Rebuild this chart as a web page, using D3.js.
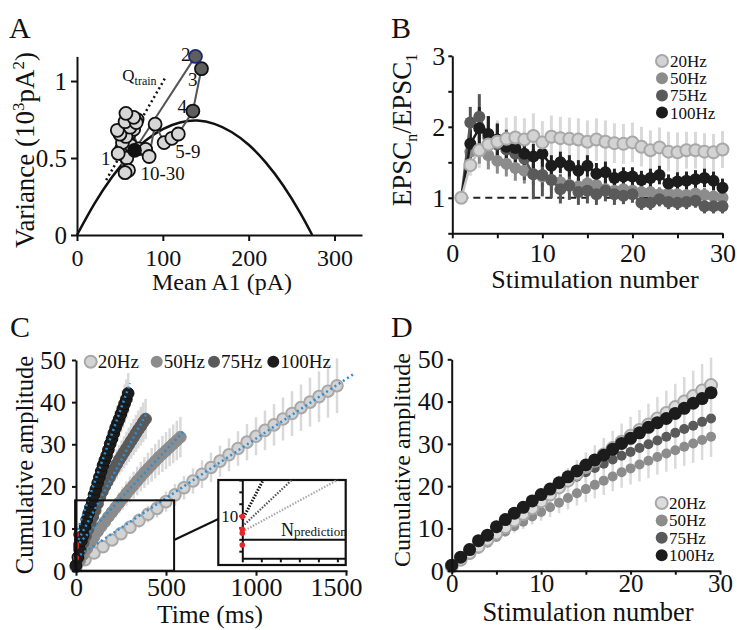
<!DOCTYPE html>
<html>
<head>
<meta charset="utf-8">
<title>Quantal analysis of train responses</title>
<script src="https://d3js.org/d3.v7.min.js"></script>
<style>
  body { margin: 0; background: #fff; }
  svg text { font-family: "Liberation Serif", "Times New Roman", serif; fill: #111; }
</style>
</head>
<body>
<div id="fig"></div>
<script>
// ---------- data ----------
var freqLabels = ["20Hz", "50Hz", "75Hz", "100Hz"];
var intervalsMs = [50, 20, 13.33, 10];

// A: mean-variance of A1 over the train (stimulus 1..30)
var meanA1 = [67, 138, 145, 135, 118, 110.5, 101.5, 91, 84, 80,
              72, 57, 66, 69, 56, 62, 47, 50, 57, 66,
              48, 56, 60, 70, 53, 63, 58, 52, 61, 55];
var varA1 = [0.55, 1.16, 1.08, 0.805, 0.656, 0.628, 0.60, 0.72, 0.51, 0.556,
             0.56, 0.79, 0.764, 0.73, 0.736, 0.70, 0.68, 0.655, 0.64, 0.686,
             0.53, 0.405, 0.42, 0.75, 0.60, 0.58, 0.50, 0.56, 0.66, 0.52];
var parabolaMean = [0, 20, 40, 60, 80, 100, 120, 140, 160, 180, 200, 220, 240, 260, 274];
var parabolaVar = [0, 0.20, 0.37, 0.508, 0.614, 0.688, 0.731, 0.743, 0.722, 0.669, 0.586, 0.47, 0.323, 0.144, 0];
var qTrainMean = [34, 104];
var qTrainVar = [0.357, 1.032];

// B: EPSCn/EPSC1, stimulation 1..30
var ppr20 = [1, 1.46, 1.67, 1.75, 1.79, 1.83, 1.85, 1.82, 1.87, 1.78, 1.86, 1.84, 1.83, 1.82, 1.79,
             1.82, 1.79, 1.77, 1.76, 1.78, 1.72, 1.67, 1.71, 1.65, 1.64, 1.67, 1.67, 1.65, 1.64, 1.68];
var ppr50 = [1, 1.65, 1.68, 1.60, 1.52, 1.48, 1.42, 1.38, 1.33, 1.30, 1.25, 1.22, 1.18, 1.16, 1.20,
             1.18, 1.12, 1.10, 1.12, 1.10, 1.08, 1.08, 1.05, 1.06, 1.05, 1.04, 1.06, 1.04, 1.02, 1.00];
var ppr75 = [1, 2.06, 2.14, 1.85, 1.75, 1.68, 1.62, 1.55, 1.33, 1.32, 1.25, 1.12, 1.17, 1.08, 1.10,
             1.05, 1.10, 1.05, 1.03, 1.05, 0.93, 0.93, 0.98, 0.94, 0.93, 0.94, 0.96, 0.88, 0.88, 0.88];
var ppr100 = [1, 1.76, 1.98, 1.90, 1.82, 1.72, 1.70, 1.62, 1.58, 1.62, 1.45, 1.50, 1.45, 1.38, 1.45,
              1.34, 1.36, 1.28, 1.30, 1.30, 1.25, 1.28, 1.32, 1.20, 1.23, 1.24, 1.26, 1.28, 1.24, 1.14];
var pprErr20 = [0, 0.15, 0.25, 0.3, 0.3, 0.3, 0.3, 0.3, 0.32, 0.3, 0.3, 0.3, 0.3, 0.3, 0.3,
                0.3, 0.3, 0.28, 0.28, 0.28, 0.28, 0.28, 0.28, 0.28, 0.28, 0.26, 0.26, 0.26, 0.26, 0.26];
var pprErr50 = [0, 0.15, 0.2, 0.2, 0.18, 0.18, 0.18, 0.18, 0.15, 0.15, 0.15, 0.12, 0.12, 0.12, 0.12,
                0.1, 0.1, 0.1, 0.1, 0.1, 0.1, 0.1, 0.1, 0.1, 0.1, 0.1, 0.1, 0.1, 0.1, 0.1];
var pprErr75 = [0, 0.22, 0.32, 0.3, 0.3, 0.28, 0.28, 0.3, 0.35, 0.3, 0.25, 0.2, 0.2, 0.18, 0.18,
                0.15, 0.15, 0.15, 0.12, 0.12, 0.1, 0.1, 0.1, 0.1, 0.1, 0.1, 0.1, 0.1, 0.1, 0.1];
var pprErr100 = [0, 0.2, 0.3, 0.25, 0.22, 0.2, 0.2, 0.18, 0.18, 0.18, 0.15, 0.15, 0.15, 0.15, 0.15,
                 0.15, 0.15, 0.13, 0.13, 0.13, 0.13, 0.13, 0.13, 0.13, 0.13, 0.13, 0.13, 0.13, 0.13, 0.13];

// C & D: cumulative amplitude, stimulation 0..29
var cum20 = [1.0, 2.6, 4.2, 5.7, 7.3, 8.8, 10.3, 11.9, 13.4, 14.8, 16.4, 18.0, 19.7, 21.3, 22.9,
             24.5, 26.0, 27.5, 29.0, 30.5, 31.9, 33.3, 34.6, 36.0, 37.3, 38.7, 40.0, 41.3, 42.6, 43.9];
var cum50 = [1.0, 2.3, 3.8, 5.2, 6.6, 8.0, 9.3, 10.5, 11.6, 12.8, 13.9, 15.0, 16.1, 17.2, 18.3,
             19.3, 20.3, 21.3, 22.3, 23.3, 24.2, 25.1, 26.0, 26.9, 27.7, 28.5, 29.3, 30.1, 30.9, 31.7];
var cum75 = [1.0, 3.0, 4.9, 6.6, 8.2, 9.8, 11.3, 12.8, 14.3, 15.9, 17.5, 18.8, 20.0, 21.1, 22.2,
             23.3, 24.3, 25.3, 26.3, 27.2, 28.1, 29.0, 29.9, 30.8, 31.7, 32.6, 33.5, 34.3, 35.2, 36.0];
var cum100 = [1.3, 3.2, 5.0, 7.1, 8.4, 10.4, 12.1, 13.6, 15.0, 16.5, 18.0, 19.3, 20.8, 22.2, 23.6,
              25.0, 26.2, 27.3, 28.7, 30.1, 31.3, 32.6, 33.9, 35.0, 36.0, 37.2, 38.4, 39.6, 40.7, 42.1];
var cumErr20 = [0.2, 0.4, 0.7, 0.9, 1.1, 1.3, 1.6, 1.8, 2.0, 2.2, 2.4, 2.6, 2.8, 3.0, 3.3,
                3.5, 3.7, 3.9, 4.1, 4.3, 4.5, 4.7, 4.9, 5.1, 5.3, 5.5, 5.8, 6.0, 6.3, 6.5];
var cumErr50 = [0.1, 0.3, 0.5, 0.7, 0.9, 1.1, 1.3, 1.5, 1.7, 1.9, 2.1, 2.3, 2.5, 2.7, 2.9,
                3.1, 3.2, 3.4, 3.5, 3.7, 3.8, 4.0, 4.1, 4.2, 4.3, 4.4, 4.5, 4.6, 4.7, 4.8];

// C: linear fits of the late phase (start at t=0, end point)
var fitIntercepts = [3.1, 5.7, 6.3, 8.6];
var fitEndT = [1540, 600, 395, 300];
var fitEndY = [46.6, 33.2, 37.6, 44.5];
var zoomBoxT = [-5, 545];
var zoomBoxY = [0, 16.7];

// C inset (magnified schematic)
var insetTicksX = [0, 10, 20, 30, 40, 50];
var insetTicksY = [2.5, 5, 7.5, 10, 12.5, 15, 17.5];
var insetRed = [9.8, 7.1, 6.3, 3.8];
var insetFitStart = [9.1, 7.7, 6.6];
var insetFitEndT = [11, 26, 50];
var insetNpred = 4.9;

// ---------- styles ----------
var fills = ["#d3d3d3", "#8c8c8c", "#5a5a5a", "#1c1c1c"];
var strokes = ["#a8a8a8", "#8c8c8c", "#5a5a5a", "#111111"];
var errCols = ["#d9d9d9", "#8c8c8c", "#555555", "#222222"];

var svg = d3.select("#fig").append("svg")
  .attr("width", 737).attr("height", 630)
  .style("background", "#fff");

function styleAxis(g, fs) {
  g.attr("font-family", null);
  g.selectAll("path, line").attr("stroke", "#111").attr("stroke-width", 2);
  g.selectAll("text").attr("font-size", fs).attr("fill", "#111");
}

function yTitle(x, y, fs) {
  return svg.append("text")
    .attr("transform", "translate(" + x + "," + y + ") rotate(-90)")
    .attr("text-anchor", "middle").attr("font-size", fs);
}

function panelLetter(txt, x, y) {
  svg.append("text").attr("x", x).attr("y", y).attr("font-size", 30).text(txt);
}

// ================= Panel A =================
var xA = d3.scaleLinear().domain([0, 332]).range([77, 362]);
var yA = d3.scaleLinear().domain([0, 1.16]).range([235, 56.4]);
var gA = svg.append("g");

gA.append("path")
  .datum(d3.range(parabolaMean.length))
  .attr("fill", "none").attr("stroke", "#111").attr("stroke-width", 2.5)
  .attr("d", d3.line().curve(d3.curveNatural)
    .x(function(i){ return xA(parabolaMean[i]); })
    .y(function(i){ return yA(parabolaVar[i]); }));

gA.append("line")
  .attr("x1", xA(qTrainMean[0])).attr("y1", yA(qTrainVar[0]))
  .attr("x2", xA(qTrainMean[1])).attr("y2", yA(qTrainVar[1]))
  .attr("stroke", "#111").attr("stroke-width", 2.5).attr("stroke-dasharray", "2,3");

var idxA = d3.range(meanA1.length);
gA.append("path")
  .datum(idxA)
  .attr("fill", "none").attr("stroke", "#555").attr("stroke-width", 2)
  .attr("d", d3.line()
    .x(function(i){ return xA(meanA1[i]); })
    .y(function(i){ return yA(varA1[i]); }));

gA.selectAll("circle.pt").data(idxA.slice().reverse()).enter()
  .append("circle")
  .attr("cx", function(i){ return xA(meanA1[i]); })
  .attr("cy", function(i){ return yA(varA1[i]); })
  .attr("r", 6.5)
  .attr("fill", function(i){
    if (i === 0) return "#111";
    if (i <= 3) return "#5e5e5e";
    return "#d6d6d6";
  })
  .attr("stroke", function(i){ return i === 1 ? "#1b2a78" : "#111"; })
  .attr("stroke-width", 1.8);

function annA(txt, i, dx, dy, col, anchor) {
  gA.append("text")
    .attr("x", xA(meanA1[i]) + dx).attr("y", yA(varA1[i]) + dy)
    .attr("text-anchor", anchor).attr("font-size", 19).attr("fill", col)
    .text(txt);
}
annA("1", 0, -24, 15, "#333", "end");
annA("2", 1, -5, 5, "#333", "end");
annA("3", 2, -4, 17, "#888", "end");
annA("4", 3, -6, 2, "#aaa", "end");
annA("5-9", 6, 11, 15, "#bbb", "start");
annA("10-30", 22, 12, 10, "#c6c6c6", "start");

var qt = gA.append("text")
  .attr("x", xA(qTrainMean[1]) - 44).attr("y", yA(qTrainVar[1]) + 5)
  .attr("font-size", 17);
qt.append("tspan").text("Q");
qt.append("tspan").attr("font-size", 12).attr("dy", 4).text("train");

styleAxis(gA.append("g").attr("transform", "translate(0,235)")
  .call(d3.axisBottom(xA).tickValues([0, 100, 200, 300]).tickSize(6).tickSizeOuter(0).tickPadding(8)), 24);
styleAxis(gA.append("g").attr("transform", "translate(77,0)")
  .call(d3.axisLeft(yA).tickValues([0, 0.5, 1]).tickFormat(function(d){ return d; })
    .tickSize(6).tickSizeOuter(0).tickPadding(4)), 25);

svg.append("text").attr("x", 222).attr("y", 290).attr("text-anchor", "middle")
  .attr("font-size", 24).text("Mean A1 (pA)");
var tA = yTitle(34, 150, 27);
tA.append("tspan").text("Variance (10");
tA.append("tspan").attr("font-size", 17).attr("dy", -10).text("3");
tA.append("tspan").attr("dy", 10).text("pA");
tA.append("tspan").attr("font-size", 17).attr("dy", -10).text("2");
tA.append("tspan").attr("dy", 10).text(")");
panelLetter("A", 9, 38);

// ================= Panel B =================
var xB = d3.scaleLinear().domain([0, 30]).range([452.3, 722.5]);
var yB = d3.scaleLinear().domain([0.5, 3]).range([233.3, 55.8]);
var gB = svg.append("g");
var pprSeries = [ppr20, ppr50, ppr75, ppr100];
var pprErrs = [pprErr20, pprErr50, pprErr75, pprErr100];

gB.append("line")
  .attr("x1", xB(1)).attr("x2", xB(30)).attr("y1", yB(1)).attr("y2", yB(1))
  .attr("stroke", "#222").attr("stroke-width", 2).attr("stroke-dasharray", "7,5");

[0, 1, 2, 3].forEach(function(s) {
  gB.selectAll(null).data(pprSeries[s]).enter().append("line")
    .attr("x1", function(d, i){ return xB(i + 1); })
    .attr("x2", function(d, i){ return xB(i + 1); })
    .attr("y1", function(d, i){ return yB(d - pprErrs[s][i]); })
    .attr("y2", function(d, i){ return yB(d + pprErrs[s][i]); })
    .attr("stroke", errCols[s]).attr("stroke-width", 3);
});

[1, 2, 3, 0].forEach(function(s) {
  var data = pprSeries[s];
  gB.append("path").datum(data)
    .attr("fill", "none").attr("stroke", s === 0 ? "#c4c4c4" : fills[s]).attr("stroke-width", 2.5)
    .attr("d", d3.line().x(function(d, i){ return xB(i + 1); }).y(function(d){ return yB(d); }));
  gB.selectAll(null).data(data).enter().append("circle")
    .attr("cx", function(d, i){ return xB(i + 1); })
    .attr("cy", function(d){ return yB(d); })
    .attr("r", 6)
    .attr("fill", fills[s])
    .attr("stroke", strokes[s]).attr("stroke-width", s === 0 ? 2 : 0);
});

styleAxis(gB.append("g").attr("transform", "translate(0,233.3)")
  .call(d3.axisBottom(xB).tickValues([0, 5, 10, 15, 20, 25, 30])
    .tickFormat(function(d){ return d % 10 === 0 ? d : ""; })
    .tickSize(5).tickSizeOuter(0).tickPadding(5)), 26);
styleAxis(gB.append("g").attr("transform", "translate(452.3,0)")
  .call(d3.axisLeft(yB).tickValues([0.5, 1, 1.5, 2, 2.5, 3])
    .tickFormat(function(d){ return d % 1 === 0 ? d : ""; })
    .tickSize(4).tickSizeOuter(0).tickPadding(3)), 26);

freqLabels.forEach(function(lab, s) {
  var yy = 61 + s * 17.2;
  gB.append("circle").attr("cx", 662).attr("cy", yy).attr("r", 6)
    .attr("fill", fills[s]).attr("stroke", strokes[s]).attr("stroke-width", s === 0 ? 2 : 0);
  gB.append("text").attr("x", 670).attr("y", yy + 6).attr("font-size", 17).text(lab);
});

svg.append("text").attr("x", 595).attr("y", 288).attr("text-anchor", "middle")
  .attr("font-size", 26).text("Stimulation number");
var tB = yTitle(411, 130, 27);
tB.append("tspan").text("EPSC");
tB.append("tspan").attr("font-size", 16).attr("dy", 6).text("n");
tB.append("tspan").attr("dy", -6).text("/EPSC");
tB.append("tspan").attr("font-size", 16).attr("dy", 6).text("1");
panelLetter("B", 391, 38);

// ================= Panel C =================
var xC = d3.scaleLinear().domain([-20, 1505]).range([72.4, 346.9]);
var yC = d3.scaleLinear().domain([0, 50]).range([570.7, 360]);
var gC = svg.append("g");
var cumSeries = [cum20, cum50, cum75, cum100];
var cumErrs = [cumErr20, cumErr50, cumErr50, cumErr50];

[0, 1, 2, 3].forEach(function(s) {
  gC.selectAll(null).data(cumSeries[s]).enter().append("line")
    .attr("x1", function(d, i){ return xC(i * intervalsMs[s]); })
    .attr("x2", function(d, i){ return xC(i * intervalsMs[s]); })
    .attr("y1", function(d, i){ return yC(d - cumErrs[s][i]); })
    .attr("y2", function(d, i){ return yC(d + cumErrs[s][i]); })
    .attr("stroke", "#d9d9d9").attr("stroke-width", 2.5);
});

[0, 1, 2, 3].forEach(function(s) {
  gC.selectAll(null).data(cumSeries[s]).enter().append("circle")
    .attr("cx", function(d, i){ return xC(i * intervalsMs[s]); })
    .attr("cy", function(d){ return yC(d); })
    .attr("r", 5.8)
    .attr("fill", fills[s])
    .attr("stroke", strokes[s]).attr("stroke-width", s === 0 ? 2 : 1);
});

[0, 1, 2, 3].forEach(function(s) {
  gC.append("line")
    .attr("x1", xC(0)).attr("y1", yC(fitIntercepts[s]))
    .attr("x2", xC(fitEndT[s])).attr("y2", yC(fitEndY[s]))
    .attr("stroke", "#2a8fd6").attr("stroke-width", 2.5).attr("stroke-dasharray", "2,3");
});
gC.selectAll(null).data(fitIntercepts).enter().append("circle")
  .attr("cx", xC(0)).attr("cy", function(d){ return yC(d); })
  .attr("r", 3).attr("fill", "#e8262a");

gC.append("rect")
  .attr("x", xC(zoomBoxT[0])).attr("y", yC(zoomBoxY[1]))
  .attr("width", xC(zoomBoxT[1]) - xC(zoomBoxT[0]))
  .attr("height", yC(zoomBoxY[0]) - yC(zoomBoxY[1]))
  .attr("fill", "none").attr("stroke", "#111").attr("stroke-width", 2);

styleAxis(gC.append("g").attr("transform", "translate(0,570.7)")
  .call(d3.axisBottom(xC).tickValues([0, 500, 1000, 1500]).tickFormat(d3.format("d"))
    .tickSize(5).tickSizeOuter(0).tickPadding(2)), 26);
gC.selectAll("g.tick text").filter(function(d){ return d === 1500; }).attr("dx", -10);
styleAxis(gC.append("g").attr("transform", "translate(76,0)")
  .call(d3.axisLeft(yC).tickValues([0, 10, 20, 30, 40, 50]).tickSize(4).tickSizeOuter(0).tickPadding(6)), 26);

// inset
var inBox = { x: 218.3, y: 480, w: 127.4, h: 85 };
var ixC = d3.scaleLinear().domain([0, 54]).range([242.3, 345]);
var iyC = d3.scaleLinear().domain([1, 17.5]).range([558.3, 480]);
gC.append("line")
  .attr("x1", xC(zoomBoxT[1])).attr("y1", 540)
  .attr("x2", inBox.x).attr("y2", 519)
  .attr("stroke", "#111").attr("stroke-width", 2);
gC.append("rect").attr("x", inBox.x).attr("y", inBox.y).attr("width", inBox.w).attr("height", inBox.h)
  .attr("fill", "#fff").attr("stroke", "#111").attr("stroke-width", 2.2);
var insetCols = ["#111", "#555", "#aaa"];
insetFitStart.forEach(function(y0, k) {
  gC.append("line")
    .attr("x1", ixC(0)).attr("y1", iyC(y0))
    .attr("x2", ixC(insetFitEndT[k])).attr("y2", iyC(17.5))
    .attr("stroke", insetCols[k]).attr("stroke-width", k === 0 ? 3 : 2.2)
    .attr("stroke-dasharray", "1.5,1.5");
});
gC.append("line")
  .attr("x1", ixC(0)).attr("x2", ixC(54)).attr("y1", iyC(insetNpred)).attr("y2", iyC(insetNpred))
  .attr("stroke", "#111").attr("stroke-width", 2);
var ig = gC.append("g").attr("transform", "translate(0,558.3)")
  .call(d3.axisBottom(ixC).tickValues(insetTicksX).tickFormat("").tickSize(4).tickSizeOuter(0));
styleAxis(ig, 1);
var iyg = gC.append("g").attr("transform", "translate(242.3,0)")
  .call(d3.axisLeft(iyC).tickValues(insetTicksY)
    .tickFormat(function(d){ return d === 10 ? "10" : ""; })
    .tickSize(3).tickSizeOuter(0).tickPadding(1));
styleAxis(iyg, 17);
gC.selectAll(null).data(insetRed).enter().append("circle")
  .attr("cx", ixC(0)).attr("cy", function(d){ return iyC(d); })
  .attr("r", 2.8).attr("fill", "#e8262a");
var np = gC.append("text").attr("x", 281).attr("y", iyC(insetNpred) - 4).attr("font-size", 18);
np.append("tspan").text("N");
np.append("tspan").attr("font-size", 13).text("prediction");

freqLabels.forEach(function(lab, s) {
  var cx = [90.7, 156.7, 214, 273.3][s];
  gC.append("circle").attr("cx", cx).attr("cy", 361.7).attr("r", 6)
    .attr("fill", fills[s]).attr("stroke", strokes[s]).attr("stroke-width", s === 0 ? 2 : 0);
  gC.append("text").attr("x", cx + 7).attr("y", 368).attr("font-size", 19).text(lab);
});

svg.append("text").attr("x", 210).attr("y", 623).attr("text-anchor", "middle")
  .attr("font-size", 25.5).text("Time (ms)");
yTitle(33, 465, 24.5).text("Cumulative amplitude");
panelLetter("C", 10, 337);

// ================= Panel D =================
var xD = d3.scaleLinear().domain([0, 30]).range([451.7, 720]);
var yD = d3.scaleLinear().domain([0, 50]).range([570.7, 359.3]);
var gD = svg.append("g");
var dErr = [cumErr20, cumErr50];

[0, 1].forEach(function(s) {
  gD.selectAll(null).data(cumSeries[s]).enter().append("line")
    .attr("x1", function(d, i){ return xD(i); })
    .attr("x2", function(d, i){ return xD(i); })
    .attr("y1", function(d, i){ return yD(d - dErr[s][i]); })
    .attr("y2", function(d, i){ return yD(d + dErr[s][i]); })
    .attr("stroke", "#dadada").attr("stroke-width", 2.5);
});

var dRadius = [6, 5, 5, 6.5];
[1, 2, 0, 3].forEach(function(s) {
  gD.selectAll(null).data(cumSeries[s]).enter().append("circle")
    .attr("cx", function(d, i){ return xD(i); })
    .attr("cy", function(d){ return yD(d); })
    .attr("r", dRadius[s])
    .attr("fill", s === 0 ? "#dcdcdc" : fills[s])
    .attr("stroke", strokes[s]).attr("stroke-width", s === 0 ? 2 : 0);
});

styleAxis(gD.append("g").attr("transform", "translate(0,570.7)")
  .call(d3.axisBottom(xD).tickValues([0, 5, 10, 15, 20, 25, 30])
    .tickFormat(function(d){ return d % 10 === 0 ? d : ""; })
    .tickSize(4).tickSizeOuter(0).tickPadding(0)), 25);
styleAxis(gD.append("g").attr("transform", "translate(451.7,0)")
  .call(d3.axisLeft(yD).tickValues([0, 10, 20, 30, 40, 50]).tickSize(4).tickSizeOuter(0).tickPadding(4)), 26);

freqLabels.forEach(function(lab, s) {
  var yy = 503 + s * 17.4;
  gD.append("circle").attr("cx", 661.7).attr("cy", yy).attr("r", 6)
    .attr("fill", s === 0 ? "#dcdcdc" : fills[s]).attr("stroke", strokes[s]).attr("stroke-width", s === 0 ? 2 : 0);
  gD.append("text").attr("x", 669).attr("y", yy + 6).attr("font-size", 17).text(lab);
});

svg.append("text").attr("x", 588).attr("y", 621).attr("text-anchor", "middle")
  .attr("font-size", 26.5).text("Stimulation number");
yTitle(410, 460, 24).text("Cumulative amplitude");
panelLetter("D", 391, 337);
</script>
</body>
</html>
